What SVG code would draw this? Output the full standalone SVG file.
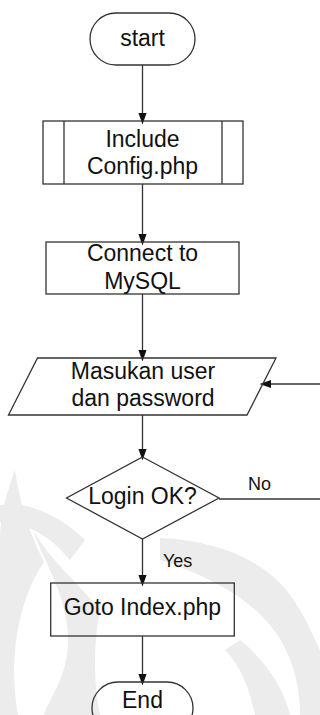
<svg xmlns="http://www.w3.org/2000/svg" width="320" height="715" viewBox="0 0 320 715">
  <defs>
    <marker id="arrow" markerWidth="12" markerHeight="17" refX="12" refY="6" orient="auto" markerUnits="userSpaceOnUse" viewBox="0 0 17 12">
      <path d="M0,0 L17,6 L0,12 Z" fill="#111"/>
    </marker>
    <style>
      .shape { fill: none; stroke: #333; stroke-width: 1.3; }
      .edge { fill: none; stroke: #333; stroke-width: 1.3; }
      .label { font-family: "Liberation Sans", Arial, sans-serif; font-size: 23px; fill: #111; text-anchor: middle; }
      .small { font-family: "Liberation Sans", Arial, sans-serif; font-size: 18px; fill: #111; }
      .mark { fill: #ececec; }
    </style>
  </defs>

  <rect width="320" height="715" fill="#fff"/>

  <!-- faint background emblem -->
  <g id="emblem">
    <path class="mark" d="M15,470 C6,495 0,515 0,540 L0,715 L18,715 C8,660 18,600 44,562 C30,535 20,505 15,470 Z"/>
    <path class="mark" d="M33,530 C45,565 70,600 68,645 C66,680 48,700 44,715 L100,715 C95,690 92,650 100,610 C80,585 50,560 33,530 Z"/>
    <path class="mark" d="M0,505 C25,500 60,515 85,540 L70,560 C50,535 25,522 0,522 Z"/>
    <path class="mark" d="M160,538 C215,540 265,560 290,595 C305,615 315,640 320,650 L320,715 L300,715 C300,680 290,650 270,625 C245,595 205,575 160,560 Z"/>
    <path class="mark" d="M240,640 C265,660 285,690 290,715 L255,715 C250,690 240,665 225,650 Z"/>
  </g>

  <g id="connectors">
    <line class="edge" x1="142.5" y1="65" x2="142.5" y2="121" marker-end="url(#arrow)"/>
    <line class="edge" x1="142.5" y1="184" x2="142.5" y2="242" marker-end="url(#arrow)"/>
    <line class="edge" x1="142.5" y1="294" x2="142.5" y2="358" marker-end="url(#arrow)"/>
    <line class="edge" x1="142.5" y1="415" x2="142.5" y2="457" marker-end="url(#arrow)"/>
    <line class="edge" x1="142.5" y1="539" x2="142.5" y2="583" marker-end="url(#arrow)"/>
    <line class="edge" x1="142.5" y1="636" x2="142.5" y2="682" marker-end="url(#arrow)"/>
    <line class="edge" x1="219" y1="499" x2="320" y2="499"/>
    <line class="edge" x1="320" y1="384" x2="263" y2="384" marker-end="url(#arrow)"/>
    <text class="small" x="248" y="490">No</text>
    <text class="small" x="163" y="567">Yes</text>
  </g>

  <g id="start">
    <rect class="shape" x="90" y="13" width="105" height="52" rx="26" ry="26"/>
    <text class="label" x="142.5" y="46">start</text>
  </g>

  <g id="include-config">
    <rect class="shape" x="43" y="121" width="200" height="63"/>
    <line class="shape" x1="64" y1="121" x2="64" y2="184"/>
    <line class="shape" x1="222" y1="121" x2="222" y2="184"/>
    <text class="label" x="142.5" y="147">Include</text>
    <text class="label" x="142.5" y="173.5">Config.php</text>
  </g>

  <g id="connect-mysql">
    <rect class="shape" x="46" y="242" width="193" height="52"/>
    <text class="label" x="142.5" y="261">Connect to</text>
    <text class="label" x="142.5" y="288.5">MySQL</text>
  </g>

  <g id="input-login">
    <polygon class="shape" points="37.5,358 276,358 247,415 8.5,415"/>
    <text class="label" x="143" y="379">Masukan user</text>
    <text class="label" x="143" y="405.5">dan password</text>
  </g>

  <g id="check-login">
    <polygon class="shape" points="142.5,457 219,498 142.5,539 66.5,498"/>
    <text class="label" x="142.5" y="503.5">Login OK?</text>
  </g>

  <g id="goto-index">
    <rect class="shape" x="50.7" y="583" width="183.6" height="53"/>
    <text class="label" x="142.5" y="615">Goto Index.php</text>
  </g>

  <g id="end">
    <rect class="shape" x="92" y="682" width="101" height="52" rx="26" ry="26"/>
    <text class="label" x="142.5" y="707.5">End</text>
  </g>
</svg>
